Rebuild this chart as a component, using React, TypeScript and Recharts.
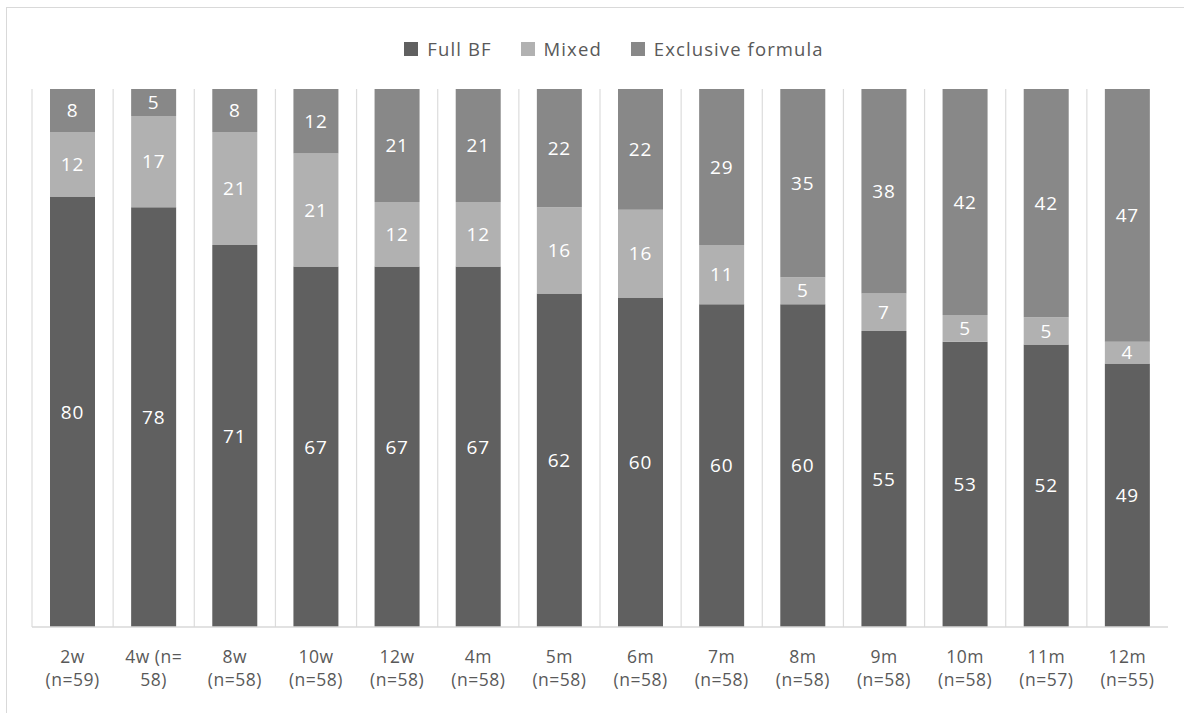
import React from "react";
import { BarChart, Bar, XAxis, YAxis, CartesianGrid, Legend, LabelList } from "recharts";

const categories = [
  "2w\n(n=59)",
  "4w (n=\n58)",
  "8w\n(n=58)",
  "10w\n(n=58)",
  "12w\n(n=58)",
  "4m\n(n=58)",
  "5m\n(n=58)",
  "6m\n(n=58)",
  "7m\n(n=58)",
  "8m\n(n=58)",
  "9m\n(n=58)",
  "10m\n(n=58)",
  "11m\n(n=57)",
  "12m\n(n=55)",
];
const fullBF = [80, 78, 71, 67, 67, 67, 62, 60, 60, 60, 55, 53, 52, 49];
const mixed = [12, 17, 21, 21, 12, 12, 16, 16, 11, 5, 7, 5, 5, 4];
const exclusiveFormula = [8, 5, 8, 12, 21, 21, 22, 22, 29, 35, 38, 42, 42, 47];

const seriesNames = ["Full BF", "Mixed", "Exclusive formula"];
const seriesKeys = ["full", "mixed", "excl"];
const seriesColors = ["#606060", "#b1b1b1", "#888888"];

const data = categories.map((c, i) => ({
  name: c,
  full: fullBF[i],
  mixed: mixed[i],
  excl: exclusiveFormula[i],
}));

const FONT = "'Open Sans', 'DejaVu Sans', sans-serif";
const W = 1184;
const H = 713;

const AxisTick = (props: any) => {
  const { x, y, payload } = props;
  const lines = String(payload.value).split("\n");
  return (
    <g>
      {lines.map((l: string, i: number) => (
        <text
          key={i}
          x={x}
          y={y + 23 + i * 23}
          textAnchor="middle"
          fill="#595959"
          fontSize={17.5}
          letterSpacing={0.5}
          fontFamily={FONT}
          dominantBaseline="middle"
        >
          {l}
        </text>
      ))}
    </g>
  );
};

const LegendContent = () => (
  <div
    style={{
      height: 51,
      display: "flex",
      justifyContent: "center",
      alignItems: "flex-start",
      paddingLeft: 28,
      fontFamily: FONT,
      fontSize: 18.5,
      letterSpacing: 1.1,
      color: "#595959",
    }}
  >
    {seriesNames.map((n, i) => (
      <div key={n} style={{ display: "flex", alignItems: "center", marginRight: i < 2 ? 29 : 0, height: 21 }}>
        <span style={{ width: 14, height: 14, background: seriesColors[i], display: "inline-block", marginRight: 9 }} />
        <span>{n}</span>
      </div>
    ))}
  </div>
);

export default function App() {
  return (
    <div style={{ position: "absolute", left: 0, top: 0, width: W, height: H, overflow: "hidden", background: "#fff" }}>
      <div
        style={{
          position: "absolute",
          left: 6,
          top: 7,
          width: W + 20,
          height: H + 20,
          borderLeft: "1px solid #d9d9d9",
          borderTop: "1px solid #d9d9d9",
        }}
      />
      <BarChart
        width={W}
        height={H}
        data={data}
        stackOffset="expand"
        barSize={45}
        margin={{ top: 38, right: 16, left: 32, bottom: 26 }}
        style={{ position: "absolute", left: 0, top: 0 }}
      >
        <CartesianGrid
          horizontal={false}
          stroke="#dcdcdc"
          strokeWidth={1.2}
          verticalCoordinatesGenerator={({ offset }: any) =>
            categories.map((_, i) => offset.left + (i * offset.width) / categories.length)
          }
        />
        <Legend verticalAlign="top" align="center" content={<LegendContent />} />
        <XAxis
          dataKey="name"
          interval={0}
          tickLine={false}
          axisLine={{ stroke: "#d9d9d9", strokeWidth: 1.5 }}
          height={60}
          tick={<AxisTick />}
        />
        <YAxis hide domain={[0, 1]} />
        {seriesKeys.map((k, i) => (
          <Bar key={k} dataKey={k} name={seriesNames[i]} stackId="a" fill={seriesColors[i]} isAnimationActive={false}>
            <LabelList dataKey={k} position="center" fill="#ffffff" fontSize={19} letterSpacing={0.8} fontFamily={FONT} />
          </Bar>
        ))}
      </BarChart>
    </div>
  );
}
